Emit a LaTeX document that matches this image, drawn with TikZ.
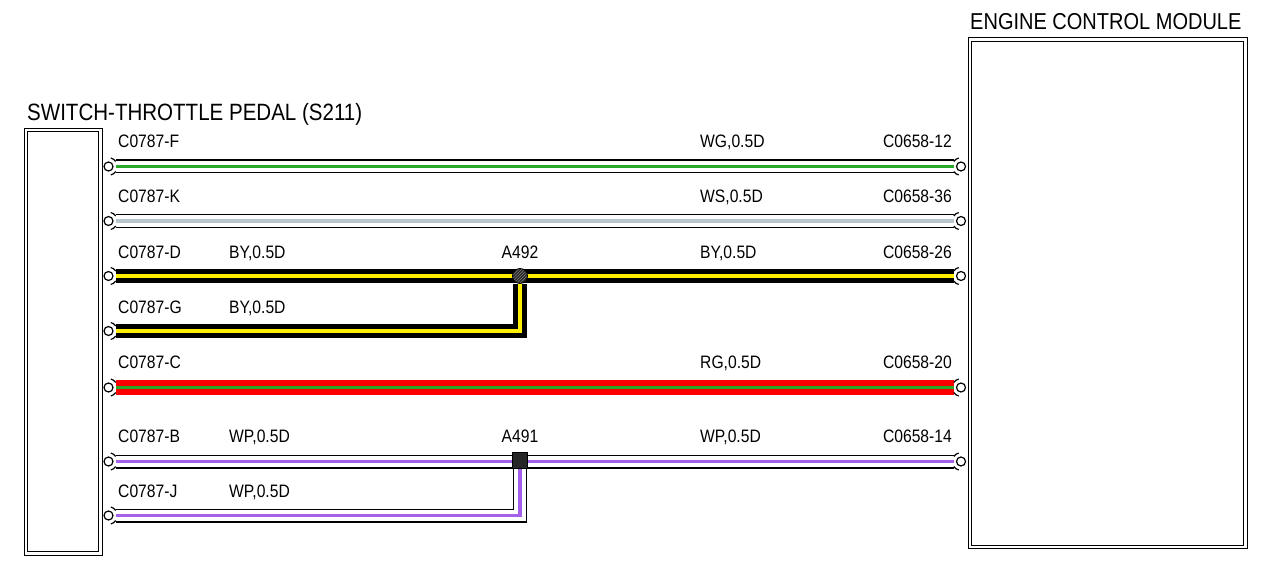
\documentclass[tikz,border=0pt]{standalone}
\usepackage{fontspec}
\setmainfont[FakeStretch=0.87]{Liberation Sans}
\usepackage{tikz}
\usetikzlibrary{shapes.misc}
\usetikzlibrary{patterns}
\usetikzlibrary{backgrounds}
\usetikzlibrary{positioning}
\definecolor{wgreen}{RGB}{40,170,40}
\definecolor{wgrey}{RGB}{185,198,206}
\definecolor{wyellow}{RGB}{255,238,0}
\definecolor{wred}{RGB}{250,0,0}
\definecolor{wpurple}{RGB}{165,95,235}
\tikzstyle{module}=[rectangle,draw=black,double,double distance=2.6,line width=0.9,inner sep=0mm]
\tikzstyle{terminal}=[circle,draw=black,fill=white,inner sep=0mm,minimum size=9,line width=1.2,outer sep=2.5]
\tikzstyle{lbl}=[anchor=base west,inner sep=0mm,font=\fontsize{18}{20}\selectfont]
\tikzstyle{rlbl}=[lbl,anchor=base east]
\tikzstyle{clbl}=[lbl,anchor=base]
\tikzstyle{title}=[anchor=base west,inner sep=0mm,font=\fontsize{23}{26}\selectfont]
\tikzstyle{splice}=[circle,draw=black,fill=black!85,inner sep=0mm,minimum size=15,line width=0.8]
\tikzstyle{splice2}=[chamfered rectangle,chamfered rectangle corners={north west,north east},chamfered rectangle xsep=3,chamfered rectangle ysep=3,draw=black,fill=black!85,inner sep=0mm,minimum width=15,minimum height=16,line width=0.8]
\tikzset{
  solidwire/.style 2 args={draw=#1,line width=14.5,postaction={draw=#2,line width=3.8}},
  whitewire/.style={draw=black,line width=14,postaction={draw=white,line width=11.2},postaction={draw=#1,line width=3.8}}
}

\begin{document}
\begin{tikzpicture}[x=1pt,y=-1pt]
  \useasboundingbox (0,0) rectangle (1280,569);
  % modules
  \node[module,minimum width=74.5,minimum height=423.5] at (63.25,341.75) (pedal) {};
  \node[module,minimum width=275.5,minimum height=507.5] at (1107.75,293.25) (ecm) {};
  \node[title,font=\fontsize{23.6}{26}\selectfont] at (27,121) (pedaltitle) {SWITCH-THROTTLE PEDAL (S211)};
  \node[title] at (970,30) (ecmtitle) {ENGINE CONTROL MODULE};
  % terminals
  \foreach \n/\y in {F/166.5,K/221,D/276,G/331,C/387.5,B/461.5,J/515.5} {
    \node[terminal] at (108.5,\y) (l\n) {};
    \draw[line width=1.2] (l\n.center) ++(35:8.8pt) arc[start angle=35,end angle=75,radius=8.8pt];
    \draw[line width=1.2] (l\n.center) ++(-35:8.8pt) arc[start angle=-35,end angle=-75,radius=8.8pt];
  }
  \foreach \n/\y in {F/166.5,K/221,D/276,C/387.5,B/461.5} {
    \node[terminal] at (961,\y) (r\n) {};
    \draw[line width=1.2] (r\n.center) ++(145:8.8pt) arc[start angle=145,end angle=105,radius=8.8pt];
    \draw[line width=1.2] (r\n.center) ++(-145:8.8pt) arc[start angle=-145,end angle=-105,radius=8.8pt];
  }
  % splices
  \node[splice,pattern=north east lines,pattern color=gray,preaction={fill=black!85}] at (520,276) (A492) {};
  \node[splice2] at (520,460) (A491) {};
  % wires
  \begin{pgfonlayer}{background}
    \draw[whitewire=wgreen] (lF) -- (rF);
    \draw[whitewire=wgrey] (lK) -- (rK);
    \draw[solidwire={black}{wyellow}] (lD) -- (rD);
    \draw[solidwire={black}{wyellow}] (lG) -| (A492);
    \draw[solidwire={wred}{wgreen}] (lC) -- (rC);
    \draw[whitewire=wpurple] (lB) -- (rB);
    \draw[whitewire=wpurple] (lJ) -| (A491);
  \end{pgfonlayer}
  % labels
  \node[lbl] at (118,148) (nF) {C0787-F};
  \node[lbl] at (118,203) (nK) {C0787-K};
  \node[lbl] at (118,259) (nD) {C0787-D};
  \node[lbl] at (118,314) (nG) {C0787-G};
  \node[lbl] at (118,369) (nC) {C0787-C};
  \node[lbl] at (118,442) (nB) {C0787-B};
  \node[lbl] at (118,497) (nJ) {C0787-J};
  \node[lbl] at (229,259) (cD) {BY,0.5D};
  \node[lbl] at (229,314) (cG) {BY,0.5D};
  \node[lbl] at (229,442) (cB) {WP,0.5D};
  \node[lbl] at (229,497) (cJ) {WP,0.5D};
  \node[clbl] at (520,259) (tA492) {A492};
  \node[clbl] at (520,442) (tA491) {A491};
  \node[lbl] at (700,148) (mF) {WG,0.5D};
  \node[lbl] at (700,203) (mK) {WS,0.5D};
  \node[lbl] at (700,259) (mD) {BY,0.5D};
  \node[lbl] at (700,369) (mC) {RG,0.5D};
  \node[lbl] at (700,442) (mB) {WP,0.5D};
  \node[rlbl] at (952,148) (pF) {C0658-12};
  \node[rlbl] at (952,203) (pK) {C0658-36};
  \node[rlbl] at (952,259) (pD) {C0658-26};
  \node[rlbl] at (952,369) (pC) {C0658-20};
  \node[rlbl] at (952,442) (pB) {C0658-14};
\end{tikzpicture}
\end{document}
